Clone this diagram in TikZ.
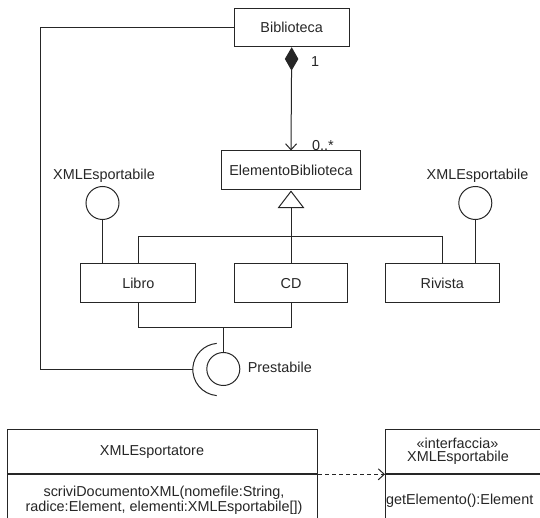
\documentclass[tikz,border=0pt]{standalone}
\usepackage{fontspec}
\setmainfont{Liberation Sans}
\usetikzlibrary{arrows.meta}
\begin{document}
\begin{tikzpicture}[x=1pt,y=-1pt, line width=1pt, draw=black!85,
  txt/.style={font=\fontsize{14.4}{14.8}\selectfont, text=black!85},
  cls/.style={draw, minimum width=#1, minimum height=38.4pt, inner sep=0pt, txt},
  lbl/.style={inner sep=0pt, txt},
  ball/.style={draw, circle, minimum size=33pt, inner sep=0pt},
  openarrow/.style={-{Straight Barb[length=6pt,width=11pt,line width=1pt]}}]
\useasboundingbox (0,0) rectangle (540,518);
\clip (0,0) rectangle (540,518);
\fill[white] (0,0) rectangle (540,518);

% classes
\node[cls=114.7] (bib) at (291.7,27.5) {Biblioteca};
\node[cls=139, minimum height=39pt] (elem) at (291,170.5) {ElementoBiblioteca};
\node[cls=114.7] (libro) at (138.3,283.2) {Libro};
\node[cls=113] (cd) at (291,283.2) {CD};
\node[cls=114.3] (riv) at (442.3,283.2) {Rivista};

% provided interfaces (lollipops)
\node[ball] (ballL) at (102.5,203) {};
\node[ball] (ballR) at (475.3,203) {};
\node[lbl] (lblL) at (104,176) {XMLEsportabile};
\node[lbl] (lblR) at (477.5,176) {XMLEsportabile};
\draw (ballL.south) -- (ballL.south |- libro.north);
\draw (ballR.south) -- (ballR.south |- riv.north);

% Prestabile
\node[ball] (prest) at (223.3,369) {};
\node[lbl, anchor=west] (lblP) at (247.3,367) {Prestabile};
\coordinate (pj) at (223.3,327.7);
\draw (libro.south) |- (pj) -| (cd.south);
\draw (pj) -- (prest.north);

% required interface (socket) from Biblioteca
\coordinate (sock) at (192.8,369.5);
\coordinate (bl1) at (40,28);
\draw (bib.west |- bl1) -- (bl1) |- (sock);
\draw (219,369.5) ++(95:26.2) arc[start angle=95, end angle=265, radius=26.2];

% composition
\draw[{Diamond[length=23.5pt,width=13.5pt,fill=black!85]}-{Straight Barb[length=6pt,width=11pt,line width=1pt]}] (bib.south) -- (elem.north);
\node[lbl] (m1) at (315,62) {1};
\node[lbl] (m2) at (323,146) {0..*};

% generalization
\coordinate (gj) at (291,236.5);
\draw (libro.north) |- (gj) -| (riv.north);
\draw[-{Triangle[open,length=17.6pt,width=26.7pt,line width=1pt,fill=white]}] (cd.north) -- (elem.south);

% bottom: XMLEsportatore
\node[draw, minimum width=310pt, minimum height=44.3pt, inner sep=0pt, anchor=north west] (xe) at (7.3,429) {};
\node[lbl] (xename) at (152,452) {XMLEsportatore};
\node[draw, anchor=north, minimum width=310pt, minimum height=70pt, inner sep=0pt] (xeops) at (xe.south) {};
\node[lbl, align=center] (xeop) at (164,500) {scriviDocumentoXML(nomefile:String,\\radice:Element, elementi:XMLEsportabile[])};

% bottom: interface
\node[draw, minimum width=200pt, minimum height=44.3pt, inner sep=0pt, anchor=north west] (xi) at (385,429) {};
\node[lbl] (xist) at (457.5,443) {«interfaccia»};
\node[lbl] (xiname) at (458,458) {XMLEsportabile};
\node[draw, anchor=north west, minimum width=200pt, minimum height=70pt, inner sep=0pt] (xiops) at (xi.south west) {};
\node[lbl, anchor=west] (xiop) at (385.5,501) {getElemento():Element};

% dependency
\draw[dashed, dash pattern=on 4pt off 3pt, openarrow] (xe.south east) -- (xi.south west);
\end{tikzpicture}
\end{document}
